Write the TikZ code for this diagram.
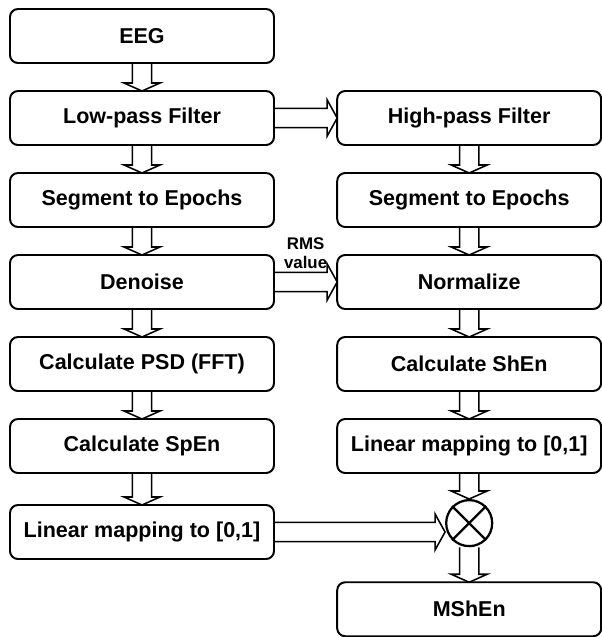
\documentclass[tikz,border=0pt]{standalone}
\usepackage{fontspec}
\setmainfont{Liberation Sans}
\usetikzlibrary{calc,positioning}

\begin{document}
\begin{tikzpicture}[
  node distance=0.7cm and 1.58cm,
  stage/.style={draw,line width=1.4pt,rounded corners=0.2cm,outer sep=0pt,
                minimum width=6.6cm,minimum height=1.35cm,align=center,
                font=\bfseries\fontsize{15.3}{18}\selectfont},
  pipedown/.style={line width=1.1pt,to path={
    ($(\tikztostart)+(-0.24,0)$) -- ($(\tikztotarget)+(-0.24,0.2)$)
    -- ($(\tikztotarget)+(-0.45,0.2)$) -- (\tikztotarget)
    -- ($(\tikztotarget)+(0.45,0.2)$) -- ($(\tikztotarget)+(0.24,0.2)$)
    -- ($(\tikztostart)+(0.24,0)$)}},
  piperight/.style={line width=1.1pt,to path={
    ($(\tikztostart)+(0,0.24)$) -- ($(\tikztotarget)+(-0.25,0.24)$)
    -- ($(\tikztotarget)+(-0.25,0.45)$) -- (\tikztotarget)
    -- ($(\tikztotarget)+(-0.25,-0.45)$) -- ($(\tikztotarget)+(-0.25,-0.24)$)
    -- ($(\tikztostart)+(0,-0.24)$)}}
]
  \useasboundingbox (0,0) rectangle (15.05,-15.925);
  % left column
  \node[stage] at (3.55,-0.9) (eeg) {EEG};
  \node[stage,below=of eeg] (low) {Low-pass Filter};
  \node[stage,below=of low] (lseg) {Segment to Epochs};
  \node[stage,below=of lseg] (den) {Denoise};
  \node[stage,below=of den] (psd) {Calculate PSD (FFT)};
  \node[stage,below=of psd] (spen) {Calculate SpEn};
  \node[stage,below=0.8cm of spen] (llin) {Linear mapping to [0,1]};
  % right column
  \node[stage,right=of low] (high) {High-pass Filter};
  \node[stage,below=of high] (rseg) {Segment to Epochs};
  \node[stage,below=of rseg] (norm) {Normalize};
  \node[stage,below=of norm] (shen) {Calculate ShEn};
  \node[stage,below=of shen] (rlin) {Linear mapping to [0,1]};
  \node[draw,circle,line width=1.6pt,minimum size=1.15cm,inner sep=0pt,
        below=0.65cm of rlin] (mult) {};
  \draw[line width=1.6pt] (mult.north west) -- (mult.south east)
    (mult.north east) -- (mult.south west);
  \node[stage,below=0.875cm of mult] (mshen) {MShEn};
  \coordinate (mx) at (llin.east -| mult.west);

  \foreach \a/\b in {eeg/low,low/lseg,lseg/den,den/psd,psd/spen,spen/llin,
                     high/rseg,rseg/norm,norm/shen,shen/rlin,rlin/mult,mult/mshen}
    \draw[pipedown] (\a.south) to (\b.north);
  \draw[piperight] (low.east) to (high.west);
  \draw[piperight] (den.east) to (norm.west);
  \draw[piperight] (llin.east) to (mx);
  \path (den.east) -- node[above=0.22cm,align=center,
        font=\bfseries\fontsize{12}{13}\selectfont] (rms) {RMS\\value} (norm.west);
\end{tikzpicture}
\end{document}
